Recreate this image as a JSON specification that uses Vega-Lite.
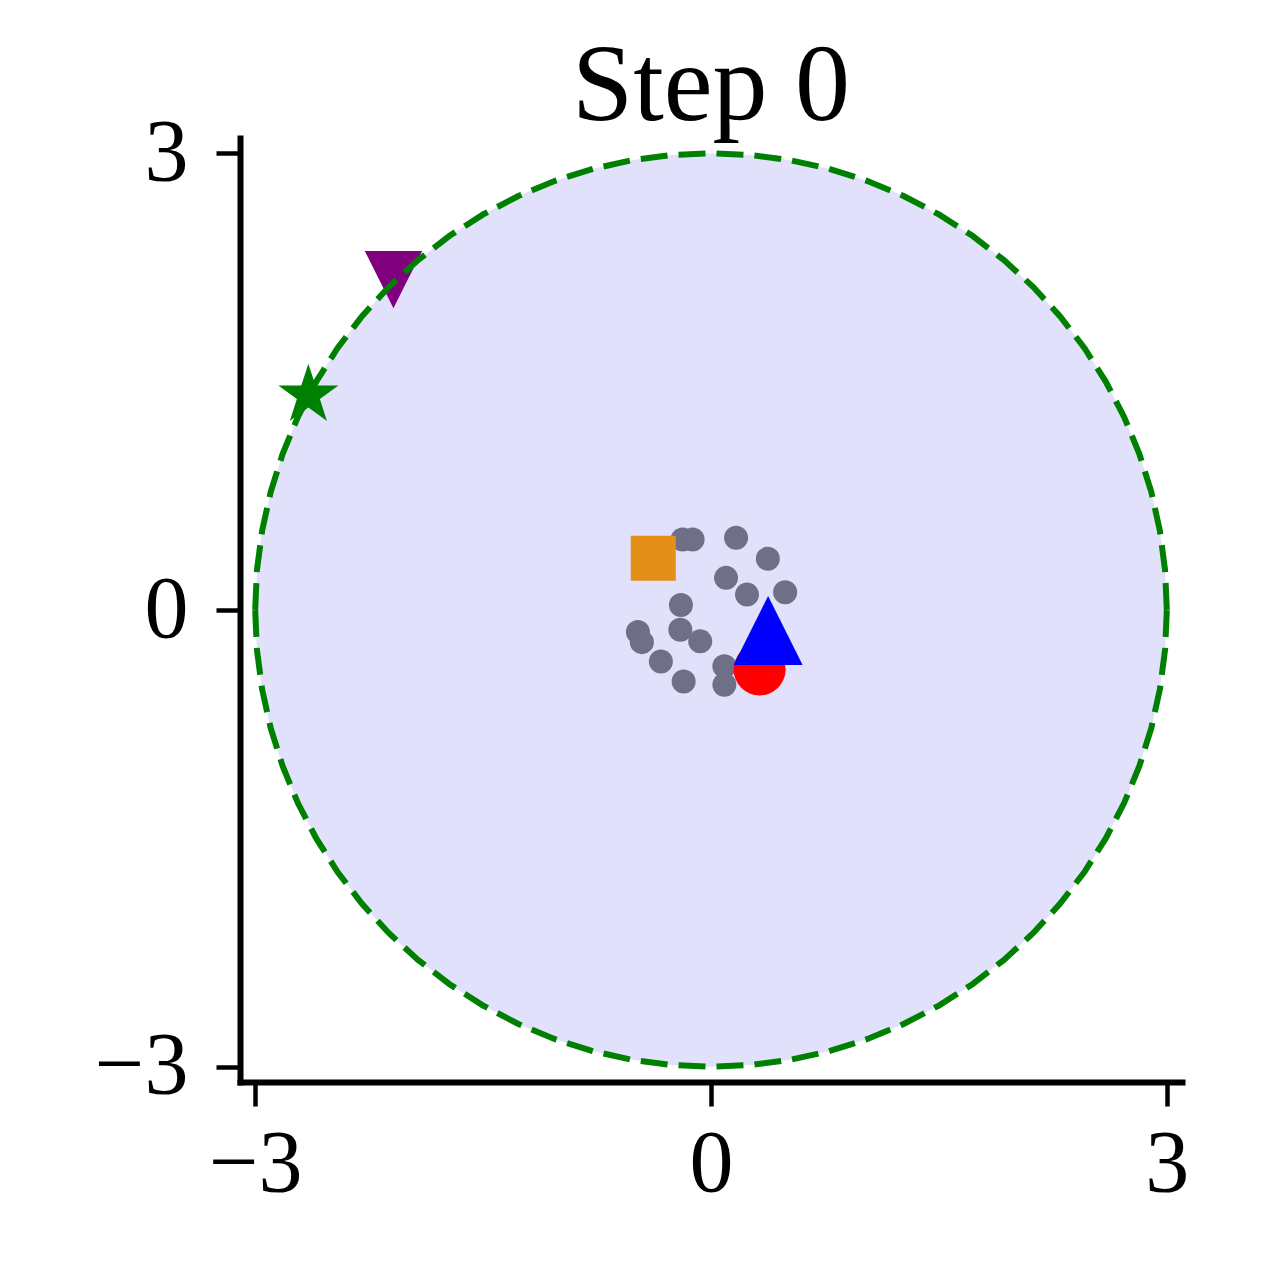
{
  "$schema": "https://vega.github.io/schema/vega-lite/v6.json",
  "autosize": {"type": "none"},
  "padding": {"left": 240, "top": 138, "right": 81, "bottom": 181},
  "width": 942,
  "height": 944,
  "background": "white",
  "title": {"text": "Step 0", "font": "Liberation Serif", "fontSize": 110, "fontWeight": "normal", "color": "black", "anchor": "middle", "baseline": "alphabetic", "offset": 17, "dy": 138, "frame": "group"},
  "config": {
    "view": {"stroke": null},
    "axis": {
      "domainColor": "black", "domainWidth": 6, "domainCap": "square",
      "tickColor": "black", "tickWidth": 4.5, "tickSize": 24,
      "labelFont": "Liberation Serif", "labelFontSize": 88, "labelColor": "black",
      "grid": false, "title": null,
      "labelFlush": false, "labelOverlap": false, "labelBound": false
    }
  },
  "datasets": {
    "disk": [
      {"x": 3, "yt": 0, "yb": 0},
      {"x": 2.9886, "yt": 0.2615, "yb": -0.2615},
      {"x": 2.9544, "yt": 0.5209, "yb": -0.5209},
      {"x": 2.8978, "yt": 0.7765, "yb": -0.7765},
      {"x": 2.8191, "yt": 1.0261, "yb": -1.0261},
      {"x": 2.7189, "yt": 1.2679, "yb": -1.2679},
      {"x": 2.5981, "yt": 1.5, "yb": -1.5},
      {"x": 2.4575, "yt": 1.7207, "yb": -1.7207},
      {"x": 2.2981, "yt": 1.9284, "yb": -1.9284},
      {"x": 2.1213, "yt": 2.1213, "yb": -2.1213},
      {"x": 1.9284, "yt": 2.2981, "yb": -2.2981},
      {"x": 1.7207, "yt": 2.4575, "yb": -2.4575},
      {"x": 1.5, "yt": 2.5981, "yb": -2.5981},
      {"x": 1.2679, "yt": 2.7189, "yb": -2.7189},
      {"x": 1.0261, "yt": 2.8191, "yb": -2.8191},
      {"x": 0.7765, "yt": 2.8978, "yb": -2.8978},
      {"x": 0.5209, "yt": 2.9544, "yb": -2.9544},
      {"x": 0.2615, "yt": 2.9886, "yb": -2.9886},
      {"x": 0, "yt": 3, "yb": -3},
      {"x": -0.2615, "yt": 2.9886, "yb": -2.9886},
      {"x": -0.5209, "yt": 2.9544, "yb": -2.9544},
      {"x": -0.7765, "yt": 2.8978, "yb": -2.8978},
      {"x": -1.0261, "yt": 2.8191, "yb": -2.8191},
      {"x": -1.2679, "yt": 2.7189, "yb": -2.7189},
      {"x": -1.5, "yt": 2.5981, "yb": -2.5981},
      {"x": -1.7207, "yt": 2.4575, "yb": -2.4575},
      {"x": -1.9284, "yt": 2.2981, "yb": -2.2981},
      {"x": -2.1213, "yt": 2.1213, "yb": -2.1213},
      {"x": -2.2981, "yt": 1.9284, "yb": -1.9284},
      {"x": -2.4575, "yt": 1.7207, "yb": -1.7207},
      {"x": -2.5981, "yt": 1.5, "yb": -1.5},
      {"x": -2.7189, "yt": 1.2679, "yb": -1.2679},
      {"x": -2.8191, "yt": 1.0261, "yb": -1.0261},
      {"x": -2.8978, "yt": 0.7765, "yb": -0.7765},
      {"x": -2.9544, "yt": 0.5209, "yb": -0.5209},
      {"x": -2.9886, "yt": 0.2615, "yb": -0.2615},
      {"x": -3, "yt": 0, "yb": 0}
    ],
    "dots": [
      {"x": -0.187, "y": 0.463},
      {"x": -0.121, "y": 0.463},
      {"x": 0.165, "y": 0.474},
      {"x": 0.374, "y": 0.336},
      {"x": 0.099, "y": 0.211},
      {"x": 0.237, "y": 0.101},
      {"x": 0.488, "y": 0.116},
      {"x": -0.198, "y": 0.033},
      {"x": -0.481, "y": -0.145},
      {"x": -0.455, "y": -0.211},
      {"x": -0.202, "y": -0.13},
      {"x": -0.071, "y": -0.206},
      {"x": -0.33, "y": -0.338},
      {"x": -0.18, "y": -0.469},
      {"x": 0.088, "y": -0.37},
      {"x": 0.088, "y": -0.491}
    ],
    "agents": [
      {"kind": "square", "x": -0.38, "y": 0.34},
      {"kind": "circle", "x": 0.32, "y": -0.39},
      {"kind": "up", "x": 0.376, "y": -0.135},
      {"kind": "down", "x": -2.09, "y": 2.17},
      {"kind": "star", "x": -2.65, "y": 1.41}
    ]
  },
  "encoding": {
    "x": {"field": "x", "type": "quantitative", "scale": {"domain": [-3.1, 3.1], "nice": false, "zero": false}, "axis": {"values": [-3, 0, 3], "format": "d", "labelPadding": 14}},
    "y": {"field": "y", "type": "quantitative", "scale": {"domain": [-3.1, 3.1], "nice": false, "zero": false}, "axis": {"values": [-3, 0, 3], "format": "d", "labelPadding": 28}}
  },
  "layer": [
    {
      "data": {"name": "disk"},
      "mark": {"type": "area", "color": "#e1e1fb", "opacity": 1, "orient": "vertical"},
      "encoding": {"y": {"field": "yt", "type": "quantitative"}, "y2": {"field": "yb"}}
    },
    {
      "data": {"name": "dots"},
      "mark": {"type": "point", "shape": "circle", "filled": true, "size": 576, "color": "#6f6f88", "opacity": 1}
    },
    {
      "data": {"name": "agents"},
      "transform": [{"filter": "datum.kind === 'square'"}],
      "mark": {"type": "point", "shape": "square", "filled": true, "size": 2025, "color": "#e38f18", "opacity": 1}
    },
    {
      "data": {"name": "agents"},
      "transform": [{"filter": "datum.kind === 'circle'"}],
      "mark": {"type": "point", "shape": "circle", "filled": true, "size": 2704, "color": "#ff0000", "opacity": 1}
    },
    {
      "data": {"name": "agents"},
      "transform": [{"filter": "datum.kind === 'up'"}],
      "mark": {"type": "point", "shape": "M0,-1L1,1L-1,1Z", "filled": true, "size": 4761, "color": "#0000ff", "opacity": 1}
    },
    {
      "data": {"name": "agents"},
      "transform": [{"filter": "datum.kind === 'down'"}],
      "mark": {"type": "point", "shape": "M-1,-1L1,-1L0,1Z", "filled": true, "size": 3300, "color": "#800080", "opacity": 1}
    },
    {
      "data": {"name": "agents"},
      "transform": [{"filter": "datum.kind === 'star'"}],
      "mark": {"type": "point", "shape": "M0,-1L0.2245,-0.309L0.9511,-0.309L0.3633,0.118L0.5878,0.809L0,0.382L-0.5878,0.809L-0.3633,0.118L-0.9511,-0.309L-0.2245,-0.309Z", "filled": true, "size": 4000, "color": "#008000", "opacity": 1}
    },
    {
      "data": {"name": "disk"},
      "mark": {"type": "line", "color": "#008000", "strokeWidth": 6, "strokeDash": [27, 11]},
      "encoding": {"y": {"field": "yt", "type": "quantitative"}}
    },
    {
      "data": {"name": "disk"},
      "mark": {"type": "line", "color": "#008000", "strokeWidth": 6, "strokeDash": [27, 11]},
      "encoding": {"y": {"field": "yb", "type": "quantitative"}}
    }
  ]
}
